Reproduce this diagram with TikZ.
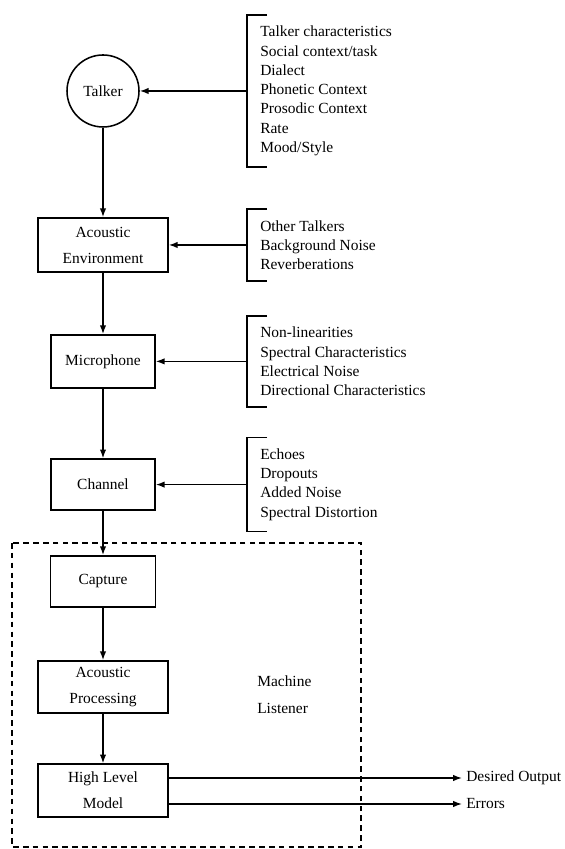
\documentclass[tikz,border=0pt]{standalone}
\usepackage{fontspec}
\setmainfont{Liberation Serif}
\usepackage{tikz}
\usetikzlibrary{arrows.meta,positioning,calc}

\begin{document}
\begin{tikzpicture}[
    station/.style={draw, line width=1.1pt, align=center, font=\fontsize{11}{18.5}\selectfont},
    factors/.style={anchor=west, align=left, inner xsep=0.325cm, inner ysep=0.27cm, font=\fontsize{11}{13.7}\selectfont},
    bracket/.style={line width=1.1pt},
    flow/.style={line width=1pt, -{Latex[length=2.2mm,width=1.6mm]}},
    listener/.style={line width=1pt, dash pattern=on 4pt off 3pt}
]
    \useasboundingbox (0,0) rectangle (14.1,21.225);

    % Signal chain
    \node[station, circle, minimum size=1.8cm, inner sep=0pt] (talker) at (2.575,18.95) {Talker};
    \node[station, minimum width=3.25cm, minimum height=1.35cm] (env) at (2.575,15.1) {Acoustic\\Environment};
    \node[station, minimum width=2.6cm, minimum height=1.325cm] (mic) at (2.575,12.19) {Microphone};
    \node[station, minimum width=2.6cm, minimum height=1.275cm] (chan) at (2.575,9.11) {Channel};
    \node[station, minimum width=2.625cm, minimum height=1.275cm] (capture) at (2.575,6.69) {Capture};
    \node[station, minimum width=3.25cm, minimum height=1.3cm] (proc) at (2.575,4.05) {Acoustic\\Processing};
    \node[station, minimum width=3.25cm, minimum height=1.325cm] (hlm) at (2.575,1.46) {High Level\\Model};

    \draw[flow] (talker) -- (env);
    \draw[flow] (env) -- (mic);
    \draw[flow] (mic) -- (chan);
    \draw[flow] (chan) -- (capture);
    \draw[flow] (capture) -- (proc);
    \draw[flow] (proc) -- (hlm);

    % Sources of variability
    \node[factors] (talkerfx) at (6.175,18.95) {Talker characteristics\\Social context/task\\Dialect\\Phonetic Context\\Prosodic Context\\Rate\\Mood/Style};
    \node[factors] (envfx) at (6.175,15.1) {Other Talkers\\Background Noise\\Reverberations};
    \node[factors] (micfx) at (6.175,12.19) {Non-linearities\\Spectral Characteristics\\Electrical Noise\\Directional Characteristics};
    \node[factors] (chanfx) at (6.175,9.11) {Echoes\\Dropouts\\Added Noise\\Spectral Distortion};

    \foreach \fx/\target in {talkerfx/talker, envfx/env, micfx/mic, chanfx/chan} {
        \draw[bracket] ([xshift=0.5cm]\fx.north west) -- (\fx.north west) -- (\fx.south west) -- ++(0.5,0);
        \draw[flow] (\fx.west) -- (\target);
    }

    % Machine listener
    \draw[listener] (0.3,7.65) rectangle (9.025,0.05);
    \node[anchor=west, align=left, inner sep=0pt, font=\fontsize{11}{19.2}\selectfont] (ml) at (6.425,3.86) {Machine\\Listener};

    % Outputs
    \node[anchor=west, inner sep=0.1cm, font=\fontsize{11}{13.7}\selectfont] (desired) at (11.55,1.775) {Desired Output};
    \node[anchor=west, inner sep=0.1cm, font=\fontsize{11}{13.7}\selectfont] (errors) at (11.55,1.125) {Errors};
    \draw[flow] (hlm.east |- desired.west) -- (desired.west);
    \draw[flow] (hlm.east |- errors.west) -- (errors.west);
\end{tikzpicture}
\end{document}
